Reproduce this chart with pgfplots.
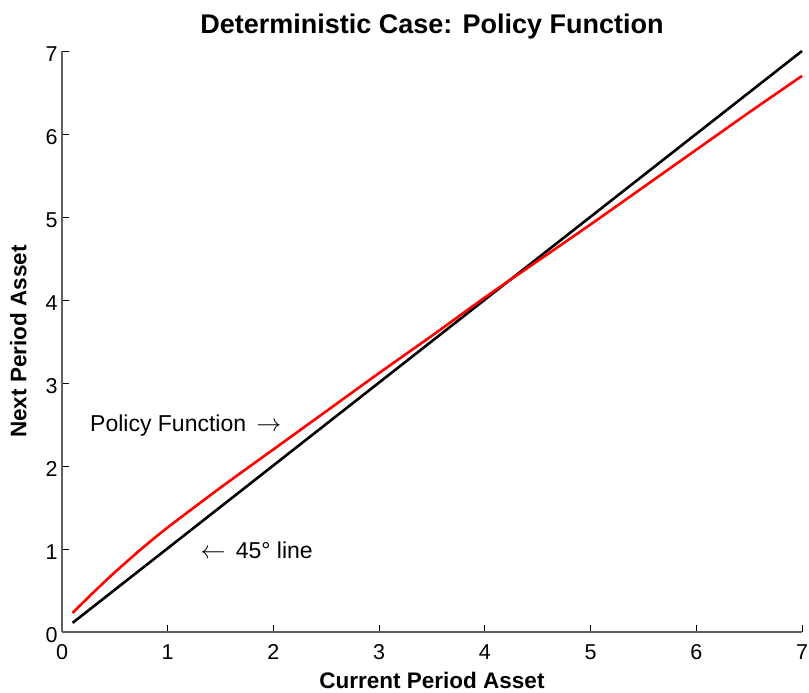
\documentclass[border=0pt]{standalone}
\usepackage{pgfplots}
\pgfplotsset{compat=1.18}
\usepackage{fontspec}
\setmainfont{Liberation Sans}
\usetikzlibrary{calc}
\definecolor{axgray}{rgb}{0.38,0.38,0.38}
\begin{document}
\begin{tikzpicture}
\begin{axis}[
  name=ax,
  scale only axis,
  width=740pt, height=581pt,
  xmin=0, xmax=7, ymin=0, ymax=7,
  xtick={0,...,7}, ytick={0,...,7},
  axis lines*=left,
  axis line style={axgray, line width=1.2pt},
  tick align=inside,
  major tick length=7pt,
  tick style={black, line width=0.8pt},
  /pgf/number format/assume math mode=true,
  tick label style={font=\fontsize{21.5}{21.5}\selectfont},
  xticklabel style={yshift=-9pt},
  yticklabel style={xshift=-1pt, yshift=-3pt},
  title={\bfseries Deterministic Case: Policy Function},
  title style={font=\fontsize{27}{27}\selectfont, yshift=2pt},
  xlabel={\bfseries Current Period Asset},
  ylabel={\bfseries Next Period Asset},
  label style={font=\fontsize{22.5}{22.5}\selectfont},
  xlabel style={yshift=-6pt},
  ylabel style={yshift=12pt},
  clip=false,
]
\addplot[black, line width=2.6pt] coordinates {(0.1,0.11) (7,7)};
\addplot[red, line width=2.6pt, smooth, tension=0.4] coordinates {
(0.1,0.23) (0.3,0.48) (0.5,0.72) (0.75,1.0) (1,1.26) (1.5,1.74) (2,2.2) (2.5,2.66)
(3,3.12) (3.5,3.57) (4,4.03) (4.5,4.47) (5,4.91) (5.5,5.36) (6,5.81)
(6.5,6.26) (7,6.7)};
\node[anchor=west, font=\fontsize{23}{23}\selectfont, inner sep=0pt] at (axis cs:0.265,2.49) {Policy Function\, $\rightarrow$};
\node[anchor=west, font=\fontsize{23}{23}\selectfont, inner sep=0pt] at (axis cs:1.31,0.99) {$\leftarrow$\, 45° line};
\end{axis}
\pgfresetboundingbox
\path ($(ax.south west)+(-62pt,-61pt)$) rectangle ($(ax.north east)+(7pt,51pt)$);
\end{tikzpicture}
\end{document}
